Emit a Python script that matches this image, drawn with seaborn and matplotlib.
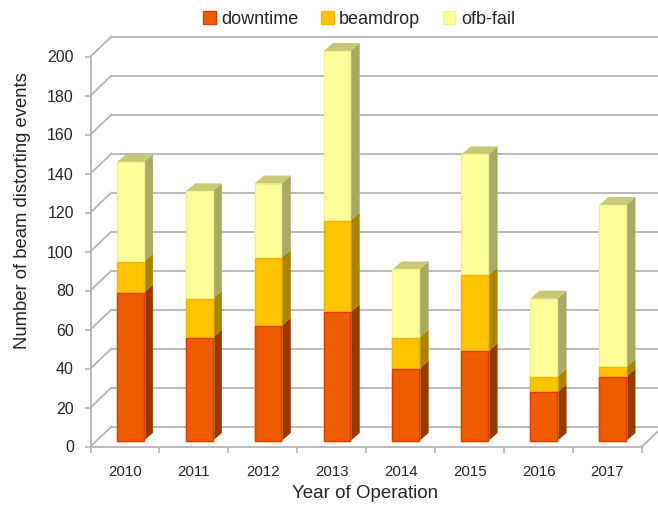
import numpy as np
import matplotlib
matplotlib.use("Agg")
import matplotlib.pyplot as plt
from matplotlib.patches import Patch, Polygon
from matplotlib.transforms import Affine2D
import seaborn as sns

# Events per year of operation
years = ["2010", "2011", "2012", "2013", "2014", "2015", "2016", "2017"]
downtime = [76, 53, 59, 66, 37, 46, 25, 33]
beamdrop = [16, 20, 35, 47, 16, 39, 8, 5]
ofb_fail = [51, 55, 38, 87, 35, 62, 40, 83]

sns.set_theme(style="white")
plt.rcParams["font.family"] = ["Liberation Sans", "DejaVu Sans"]

TEXT = "#262626"
GRID = "#b4b4b4"
W, H = 658, 505
fig = plt.figure(figsize=(W / 100, H / 100), dpi=100)
L, R, T, B = 90.5, 642, 56.5, 446.5
ax = fig.add_axes([L / W, (H - B) / H, (R - L) / W, (B - T) / H])

low = np.array(downtime, float)
mid = low + np.array(beamdrop)
top = mid + np.array(ofb_fail)

# Stacked fronts: tallest cumulative first so shorter ones overlay it
front_styles = [(top, "#FFFF99", "#F2F28C"), (mid, "#FFC400", "#F5B400"), (low, "#EE5E00", "#E23A00")]
for heights, colour, edge in front_styles:
    sns.barplot(x=years, y=heights, color=colour, saturation=1, width=0.39,
                edgecolor=edge, linewidth=1.0, ax=ax, zorder=4)

ax.set_xlim(-0.5, 7.5)
ax.set_ylim(0, 200)

# Pixel sizes expressed in data units for the pseudo-3D extrusion
ux = 8 / (R - L)
uy = 200 / (B - T)
WALL_X, WALL_Y = 21 * ux, 20 * uy
DEPTH_X, DEPTH_Y = 9.3 * ux, 8.0 * uy

shift = ax.transData + Affine2D().translate(5.2, 5.5)
for p in ax.patches:
    p.set_transform(shift)
    p.set_clip_on(False)

# Back wall, left wall and floor
yticks = np.arange(0, 201, 20)
for v in yticks:
    ax.plot([-0.5, -0.5 + WALL_X], [v, v + WALL_Y], color=GRID, lw=1.3, clip_on=False, zorder=1)
    ax.plot([-0.5 + WALL_X, 7.5 + WALL_X], [v + WALL_Y, v + WALL_Y], color=GRID, lw=1.3, clip_on=False, zorder=1)
ax.plot([7.5, 7.5 + WALL_X], [0, WALL_Y], color=GRID, lw=1.3, clip_on=False, zorder=1)

# Side and top faces of every bar segment
half = 0.195
side_colours = ["#953A00", "#A98400", "#A9A866"]
segments = [(np.zeros(8), low), (low, mid), (mid, top)]
for (base, upper), side in zip(segments, side_colours):
    for i in range(len(years)):
        xr = i + half
        ax.add_patch(Polygon([(xr, base[i]), (xr + DEPTH_X, base[i] + DEPTH_Y),
                              (xr + DEPTH_X, upper[i] + DEPTH_Y), (xr, upper[i])],
                             closed=True, facecolor=side, edgecolor="none",
                             transform=shift, clip_on=False, zorder=3))
for i in range(len(years)):
    xl, xr = i - half, i + half
    ax.add_patch(Polygon([(xl, top[i]), (xr, top[i]), (xr + DEPTH_X, top[i] + DEPTH_Y),
                          (xl + DEPTH_X, top[i] + DEPTH_Y)],
                         closed=True, facecolor="#C9C874", edgecolor="none",
                         transform=shift, clip_on=False, zorder=3))

for name in ("top", "right"):
    ax.spines[name].set_visible(False)
for name in ("left", "bottom"):
    ax.spines[name].set_color(GRID)
    ax.spines[name].set_linewidth(1.3)

ax.set_yticks(yticks)
ax.set_xticks(np.arange(8))
ax.set_xticklabels(years)
ax.set_xticks(np.arange(-0.5, 8), minor=True)
ax.tick_params(axis="y", left=True, length=4, width=1.2, color=GRID, pad=8,
               labelsize=11.5, labelcolor=TEXT)
ax.tick_params(axis="x", which="major", bottom=False, pad=7, labelsize=10.8, labelcolor=TEXT)
ax.tick_params(axis="x", which="minor", bottom=True, length=4, width=1.2, color=GRID)

fig.text(365 / W, 1 - 493 / H, "Year of Operation", ha="center", va="center", fontsize=13.5, color=TEXT)
fig.text(23 / W, 1 - 211 / H, "Number of beam distorting events", ha="center", va="center",
         rotation=90, fontsize=13.3, color=TEXT)

handles = [Patch(facecolor="#EE5E00", edgecolor="#E23A00", label="downtime"),
           Patch(facecolor="#FFC400", edgecolor="#F5B400", label="beamdrop"),
           Patch(facecolor="#FFFF99", edgecolor="#F2F28C", label="ofb-fail")]
fig.legend(handles=handles, ncol=3, loc="center", bbox_to_anchor=(359 / W, 1 - 19 / H),
           frameon=False, fontsize=13, handlelength=0.7, handleheight=0.7,
           handletextpad=0.3, columnspacing=1.25, labelcolor=TEXT)

fig.savefig("out.png", dpi=100)
